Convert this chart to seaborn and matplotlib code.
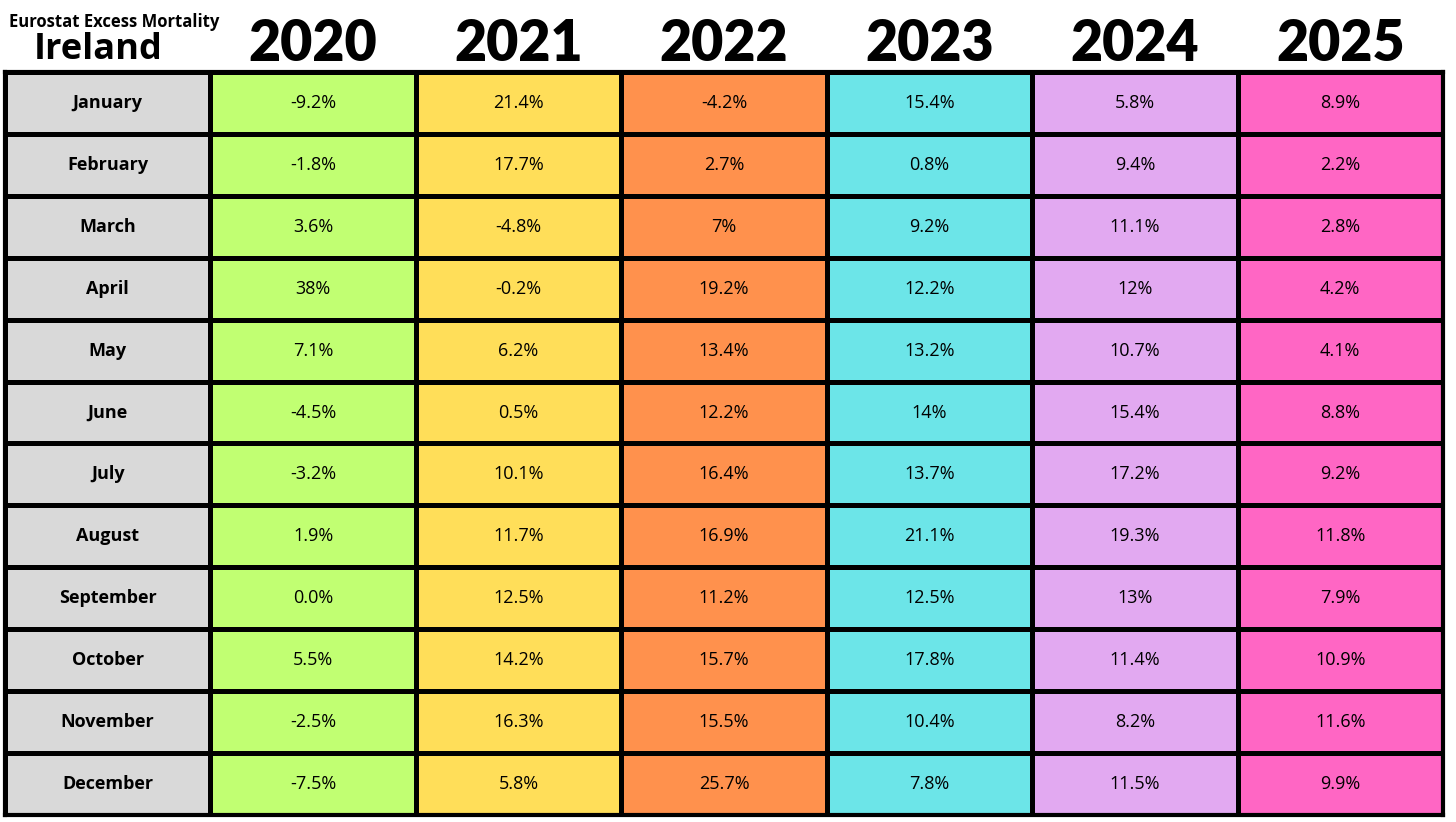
import matplotlib
matplotlib.use("Agg")
import matplotlib.pyplot as plt
import seaborn as sns
import numpy as np
from matplotlib.colors import ListedColormap

months = ["January", "February", "March", "April", "May", "June", "July",
          "August", "September", "October", "November", "December"]
years = ["2020", "2021", "2022", "2023", "2024", "2025"]
v2020 = ["-9.2%", "-1.8%", "3.6%", "38%", "7.1%", "-4.5%", "-3.2%", "1.9%", "0.0%", "5.5%", "-2.5%", "-7.5%"]
v2021 = ["21.4%", "17.7%", "-4.8%", "-0.2%", "6.2%", "0.5%", "10.1%", "11.7%", "12.5%", "14.2%", "16.3%", "5.8%"]
v2022 = ["-4.2%", "2.7%", "7%", "19.2%", "13.4%", "12.2%", "16.4%", "16.9%", "11.2%", "15.7%", "15.5%", "25.7%"]
v2023 = ["15.4%", "0.8%", "9.2%", "12.2%", "13.2%", "14%", "13.7%", "21.1%", "12.5%", "17.8%", "10.4%", "7.8%"]
v2024 = ["5.8%", "9.4%", "11.1%", "12%", "10.7%", "15.4%", "17.2%", "19.3%", "13%", "11.4%", "8.2%", "11.5%"]
v2025 = ["8.9%", "2.2%", "2.8%", "4.2%", "4.1%", "8.8%", "9.2%", "11.8%", "7.9%", "10.9%", "11.6%", "9.9%"]

col_colors = ["#d9d9d9", "#c1ff72", "#ffde59", "#ff914d", "#6ce5e8", "#e2a9f1", "#ff66c4"]

# cell text and colour index per column
labels = np.array([months, v2020, v2021, v2022, v2023, v2024, v2025]).T
codes = np.tile(np.arange(7), (len(months), 1))

fig = plt.figure(figsize=(14.56, 8.22), dpi=100)
ax = fig.add_axes([5 / 1456, 7 / 822, 1438 / 1456, 743 / 822])

sns.heatmap(codes, ax=ax, cmap=ListedColormap(col_colors), vmin=-0.5, vmax=6.5,
            annot=labels, fmt="", cbar=False, linewidths=2.5, linecolor="black",
            annot_kws={"fontsize": 13, "color": "black", "family": "Open Sans"})

for t in ax.texts:
    if t.get_text() in months:
        t.set_fontweight("bold")

ax.set_xticks([])
ax.set_yticks([])
ax.set_xlabel("")
ax.set_ylabel("")
for s in ax.spines.values():
    s.set_visible(True)
    s.set_linewidth(3)
    s.set_color("black")

# year headers
for i, y in enumerate(years):
    ax.text(i + 1.5, -0.45, y, ha="center", va="center", fontsize=40,
            fontweight="heavy", family="Lato", clip_on=False)

fig.text(9 / 1456, 1 - 22 / 822, "Eurostat Excess Mortality", ha="left", va="center",
         fontsize=12, fontweight="bold", family="Open Sans")
fig.text(98 / 1456, 1 - 50 / 822, "Ireland", ha="center", va="center",
         fontsize=26, fontweight="bold", family="Open Sans")

fig.savefig("out.png", dpi=100)
